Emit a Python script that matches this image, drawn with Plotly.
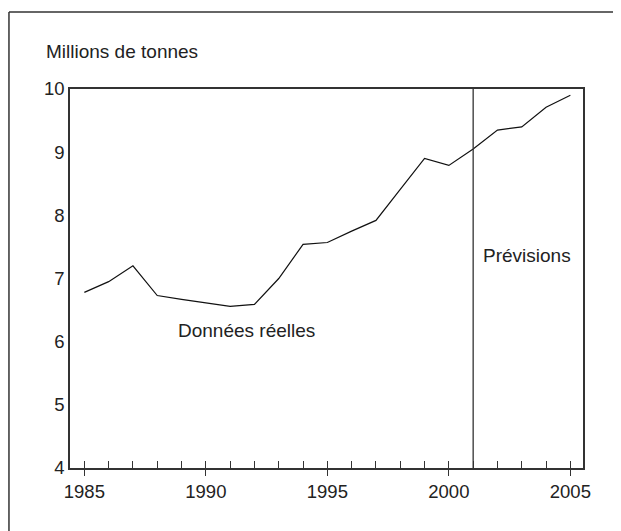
import plotly.graph_objects as go

years = list(range(1985, 2006))
tonnes = [6.78, 6.95, 7.20, 6.73, 6.67, 6.62, 6.56, 6.59, 7.00, 7.54, 7.57,
          7.75, 7.92, 8.41, 8.90, 8.79, 9.05, 9.35, 9.40, 9.71, 9.90]
forecast_start = 2001
x_ticks = [1985, 1990, 1995, 2000, 2005]
y_ticks = [4, 5, 6, 7, 8, 9, 10]

FONT = "Liberation Sans, Arial, sans-serif"
TXT = "#222222"
AX = "#333333"
xr = [1984.41, 2005.52]

# page body adds ~8px offset; target screen plot box: x 70..582.7, y 89..467.7
OFF = 8
L, R, T, B = 70, 582.7, 89, 467.7
PW, PH = R - L, B - T


def px(sx):
    return (sx - L) / PW


def py(sy):
    return (B - sy) / PH


fig = go.Figure()
fig.add_trace(go.Scatter(x=years, y=tonnes, mode="lines",
                         line=dict(color="#111111", width=1.2),
                         hoverinfo="skip", showlegend=False))
fig.add_trace(go.Scatter(x=[years[0]], y=[tonnes[0]], xaxis="x2", mode="markers",
                         marker=dict(opacity=0), showlegend=False, hoverinfo="skip"))

fig.update_layout(
    width=621, height=531,
    margin=dict(l=L - OFF, r=621 - (R - OFF), t=T - OFF, b=531 - (B - OFF)),
    paper_bgcolor="white", plot_bgcolor="white",
    font=dict(family=FONT, size=19, color=TXT),
    xaxis=dict(range=xr, tickvals=x_ticks, ticks="outside", ticklen=6,
               tickcolor=AX, tickwidth=1.3, showgrid=False, zeroline=False,
               showline=True, linecolor=AX, linewidth=1.5, mirror=True,
               tickfont=dict(size=18.5, color=TXT)),
    xaxis2=dict(range=xr, overlaying="x", anchor="y", side="bottom",
                tickmode="linear", tick0=1985, dtick=1, ticks="inside", ticklen=7,
                tickcolor=AX, tickwidth=1, showticklabels=False, showgrid=False,
                zeroline=False, showline=False),
    yaxis=dict(range=[4, 10], tickvals=y_ticks, ticks="", showgrid=False,
               zeroline=False, showline=True, linecolor=AX, linewidth=1.5,
               mirror=True, tickfont=dict(size=18.5, color=TXT)),
    shapes=[
        dict(type="line", xref="x", yref="y", x0=forecast_start, x1=forecast_start,
             y0=4, y1=10, line=dict(color=AX, width=1.3)),
        dict(type="line", xref="paper", yref="paper", x0=px(9), x1=px(640),
             y0=py(12), y1=py(12), line=dict(color=AX, width=1.5)),
        dict(type="line", xref="paper", yref="paper", x0=px(9), x1=px(9),
             y0=py(12), y1=py(560), line=dict(color=AX, width=1.5)),
    ],
    annotations=[
        dict(text="Millions de tonnes", xref="paper", yref="paper",
             x=px(44), y=py(52), xanchor="left", yanchor="middle",
             showarrow=False, font=dict(size=19, color=TXT)),
        dict(text="Données réelles", xref="x", yref="y", x=1991.66, y=6.18,
             showarrow=False, font=dict(size=19, color=TXT)),
        dict(text="Prévisions", xref="x", yref="y", x=2003.23, y=7.37,
             showarrow=False, font=dict(size=19, color=TXT)),
    ],
)

fig.write_html("out.html")
